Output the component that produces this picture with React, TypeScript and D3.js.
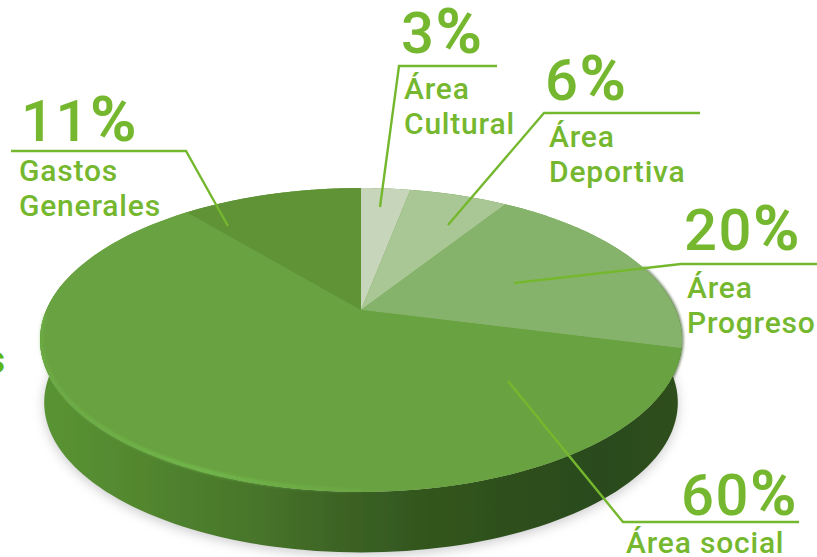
import React from 'react';
import * as d3 from 'd3';

const categories = ['Área Cultural', 'Área Deportiva', 'Área Progreso', 'Área social', 'Gastos Generales'];
const shares = [3, 6, 20, 60, 11];
const sliceColors = ['#c7d5ba', '#a9c794', '#86b36c', '#69a23f', '#5f9336'];

// leader lines and label anchors, in page pixels
const leaders = [
    { line: [[497, 66], [399, 66], [380, 207]], pct: [401, 53], label: [404, 99] },
    { line: [[700, 113], [544, 113], [448, 225]], pct: [545, 100], label: [549, 147] },
    { line: [[817, 264], [681, 264], [514, 283]], pct: [684, 250], label: [687, 298] },
    { line: [[799, 522], [623, 522], [508, 381]], pct: [681, 515], label: [626, 553] },
    { line: [[11, 151], [186, 151], [228, 226]], pct: [21, 141], label: [19, 181] },
];

const W = 817;
const H = 557;
const green = '#75b82f';
const font = 'Roboto, sans-serif';

// perspective disc: apex is not the centre of the ellipse
const cx = 361;
const cy = 310;
const R = 314.7;
const B = 146;
const K = 0.197;
const DEPTH = 63;
const BASE = 0.987;

const project = (a: number, scale = 1, dy = 0): [number, number] => {
    const x = Math.sin(a);
    const y = -Math.cos(a);
    const w = 1 - K * y;
    return [cx + (scale * R * x) / w, cy + dy + (scale * B * y) / w];
};

const rad = (deg: number) => (deg * Math.PI) / 180;
const sweep = (a0: number, a1: number) => d3.range(0, 121).map((i) => a0 + ((a1 - a0) * i) / 120);
const line = d3.line<[number, number]>();

const arcs = d3.pie<number>().sort(null).value((d) => d)(shares);

const slicePath = (a0: number, a1: number) =>
    line([[cx, cy], ...sweep(a0, a1).map((a) => project(a))])! + 'Z';

const top = sweep(rad(80), rad(280)).map((a) => project(a));
const bottom = sweep(rad(280), rad(80)).map((a) => project(a, BASE, DEPTH));
const sidePath = line([...top, ...bottom])! + 'Z';
const baseDisc = line(sweep(0, Math.PI * 2).map((a) => project(a, BASE, DEPTH)))! + 'Z';
const highlight = line(sweep(rad(180), rad(268)).map((a) => project(a, 0.996, -1)));
const darkEdge = line(sweep(rad(72), rad(125)).map((a) => project(a)));
const topDisc = line(sweep(0, Math.PI * 2).map((a) => project(a)))! + 'Z';

const sideStops: [number, string][] = [
    [40, '#5a9434'],
    [130, '#53882f'],
    [250, '#48762b'],
    [340, '#3d6324'],
    [430, '#31551e'],
    [600, '#2b4a1a'],
    [680, '#2e4f1c'],
];
const xStop = d3.scaleLinear().domain([0, W]).range([0, 100]);

const App: React.FC = () => {
    return (
        <svg
            width={W}
            height={H}
            viewBox={`0 0 ${W} ${H}`}
            style={{ position: 'fixed', left: 0, top: 0, background: '#fff' }}
        >
            <defs>
                <linearGradient id="side" gradientUnits="userSpaceOnUse" x1={0} x2={W} y1={0} y2={0}>
                    {sideStops.map(([x, c]) => (
                        <stop key={x} offset={`${xStop(x)}%`} stopColor={c} />
                    ))}
                </linearGradient>
                <linearGradient id="rim" gradientUnits="userSpaceOnUse" x1={40} x2={400} y1={0} y2={0}>
                    <stop offset="0%" stopColor="#72bd4e" stopOpacity={0.35} />
                    <stop offset="45%" stopColor="#72bd4e" stopOpacity={0.95} />
                    <stop offset="100%" stopColor="#72bd4e" stopOpacity={0} />
                </linearGradient>
                <filter id="soft" x="-10%" y="-10%" width="120%" height="130%">
                    <feGaussianBlur stdDeviation="6" />
                </filter>
                <filter id="soft2" x="-10%" y="-10%" width="120%" height="120%">
                    <feGaussianBlur stdDeviation="1.4" />
                </filter>
                <filter id="soft1" x="-2%" y="-2%" width="104%" height="104%">
                    <feGaussianBlur stdDeviation="0.6" />
                </filter>
            </defs>

            <path d={baseDisc} fill="#a9a9ad" opacity={0.6} filter="url(#soft)" transform="translate(0,3)" />
            <path d={sidePath} fill="url(#side)" filter="url(#soft1)" />
            <path d={darkEdge ?? ''} fill="none" stroke="#2b4a1a" strokeWidth={2} filter="url(#soft2)" />

            <g filter="url(#soft1)">
                <path d={topDisc} fill={sliceColors[3]} />
                {arcs.map((a, i) => (
                    <path key={categories[i]} d={slicePath(a.startAngle, a.endAngle)} fill={sliceColors[i]} />
                ))}
            </g>
            <path d={highlight ?? ''} fill="none" stroke="url(#rim)" strokeWidth={3.5} filter="url(#soft2)" />

            <text
                x={5}
                y={373}
                textAnchor="end"
                fontFamily={font}
                fontSize={38}
                fontWeight={700}
                fill="#5db515"
            >
                s
            </text>

            {leaders.map((d, i) => {
                const words = categories[i] === 'Área social' ? [categories[i]] : categories[i].split(' ');
                return (
                    <g key={categories[i]} fill={green} fontFamily={font}>
                        <path
                            d={line(d.line as [number, number][]) ?? ''}
                            fill="none"
                            stroke={green}
                            strokeWidth={2.4}
                        />
                        <text x={d.pct[0]} y={d.pct[1]} fontSize={58} fontWeight={500} letterSpacing={1.5}>
                            {shares[i]}
                            <tspan fontSize={63} fontWeight={700}>
                                %
                            </tspan>
                        </text>
                        {words.map((w, j) => (
                            <text
                                key={w}
                                x={d.label[0]}
                                y={d.label[1] + j * 35}
                                fontSize={30}
                                fontWeight={500}
                                letterSpacing={0.8}
                            >
                                {w}
                            </text>
                        ))}
                    </g>
                );
            })}
        </svg>
    );
};

export default App;
